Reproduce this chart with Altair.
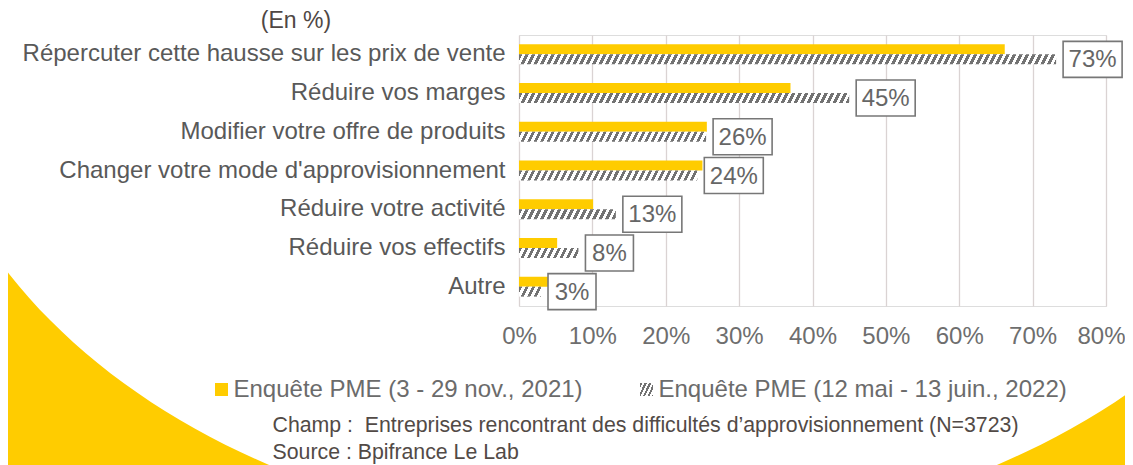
import math
import altair as alt
import pandas as pd

# ---------------- data ----------------
categories = [
    "Répercuter cette hausse sur les prix de vente",
    "Réduire vos marges",
    "Modifier votre offre de produits",
    "Changer votre mode d'approvisionnement",
    "Réduire votre activité",
    "Réduire vos effectifs",
    "Autre",
]
v2021 = [66.2, 37.0, 25.6, 25.0, 10.1, 5.2, 5.4]
v2022 = [73.2, 45.0, 25.5, 24.3, 13.2, 8.1, 3.0]
labels2022 = ["73%", "45%", "26%", "24%", "13%", "8%", "3%"]
x_ticks = [0, 10, 20, 30, 40, 50, 60, 70, 80]

legend_2021 = "Enquête PME (3 - 29 nov., 2021)"
legend_2022 = "Enquête PME (12 mai - 13 juin., 2022)"
unit_note = "(En %)"
champ_note = "Champ :\u00a0 Entreprises rencontrant des difficultés d’approvisionnement (N=3723)"
source_note = "Source : Bpifrance Le Lab"

# ---------------- style ----------------
FONT = "Liberation Sans"
YELLOW = "#FFCC00"
HATCH = "#727272"
W_PLOT, H_PLOT = 587, 271
X_MAX = 80
PX = W_PLOT / X_MAX
BAR_H = 10


def hatch_gradient(w, h, period=6.5, slant=5.0, duty=0.5, dark=HATCH, light="#ffffff"):
    """Linear gradient (bbox units) that looks like '/' stripes on a w x h box."""
    w = max(w, 1.0)
    r = slant / w
    k = (1 + r) / (1 + r * r)
    n = (w + slant) / period
    stops = []
    i = 0
    while i / n < 1:
        a = i / n
        b = min((i + duty) / n, 1.0)
        c = min((i + 1) / n, 1.0)
        stops += [
            {"offset": a, "color": dark},
            {"offset": b, "color": dark},
            {"offset": b, "color": light},
            {"offset": c, "color": light},
        ]
        i += 1
    return {"gradient": "linear", "x1": 0, "y1": 0, "x2": k, "y2": k * r, "stops": stops}


df = pd.DataFrame(
    {"cat": categories, "v21": v2021, "v22": v2022, "lab": labels2022, "idx": list(range(len(categories)))}
)

y_enc = alt.Y(
    "cat:N",
    sort=categories,
    scale=alt.Scale(paddingInner=0, paddingOuter=0),
    axis=alt.Axis(
        title=None, ticks=False, domain=False, grid=False, labelLimit=0,
        labelFontSize=24, labelColor="#595959", labelPadding=14, labelFont=FONT,
    ),
)
x_scale = alt.Scale(domain=[0, X_MAX], nice=False, zero=True)
x_axis = alt.Axis(
    title=None, values=x_ticks, labelExpr="datum.value + '%'", grid=True,
    gridColor="#dad3d3", gridWidth=1.3, domain=False, ticks=False, labelFlush=False,
    labelOffset={"condition": {"test": "datum.value == 80", "value": -5}, "value": 0},
    labelOverlap=False, labelFontSize=24, labelColor="#6e6e6e", labelPadding=18, labelFont=FONT,
)

layers = []

# background: yellow everywhere outside a large white ellipse
O_X, O_Y = 519, 35  # page position of plot origin
cx, cy, rx, ry = 633 - O_X, 12 - O_Y, 720, 525
pts = []
for j in range(241):
    t = -2 * math.pi * j / 240
    pts.append(f"L {rx * math.cos(t):.1f} {ry * math.sin(t):.1f}")
pts[0] = "M" + pts[0][1:]
path = "M -4000 -4000 L 4000 -4000 L 4000 4000 L -4000 4000 Z " + " ".join(pts) + " Z"
bg = alt.Chart(pd.DataFrame({"k": [0]})).mark_point(
    shape=path, size=4, filled=True, fill=YELLOW, opacity=1, strokeWidth=0
).encode(x=alt.value(cx), y=alt.value(cy))
layers.append(bg)

# 2021 bars
bars21 = alt.Chart(df).mark_bar(size=BAR_H, yOffset=-BAR_H / 2, color=YELLOW).encode(
    x=alt.X("v21:Q", scale=x_scale, axis=x_axis), y=y_enc
)
layers.append(bars21)

# 2022 hatched bars (one gradient per bar so stripes keep their pixel size)
for i, v in enumerate(v2022):
    grad = hatch_gradient(v * PX, BAR_H)
    layers.append(
        alt.Chart(df)
        .transform_filter(alt.FieldEqualPredicate(field="idx", equal=i))
        .mark_bar(size=BAR_H, yOffset=BAR_H / 2, color=grad)
        .encode(x=alt.X("v22:Q", scale=x_scale, axis=x_axis), y=y_enc)
    )

# boxed data labels for 2022
GAP = 7
for nchar, bw in [(3, 59), (2, 48)]:
    sub = alt.Chart(df).transform_filter(f"length(datum.lab) == {nchar}")
    layers.append(
        sub.mark_bar(
            size=36, yOffset=BAR_H / 2, xOffset=GAP, x2Offset=GAP + bw,
            fill="white", stroke="#777777", strokeWidth=1.6,
        ).encode(x=alt.X("v22:Q", scale=x_scale, axis=x_axis), x2="v22:Q", y=y_enc)
    )
    layers.append(
        sub.mark_text(
            fontSize=24, font=FONT, color="#666666", align="center", baseline="middle",
            xOffset=GAP + bw / 2, yOffset=BAR_H / 2 + 1,
        ).encode(x=alt.X("v22:Q", scale=x_scale, axis=x_axis), y=y_enc, text="lab:N")
    )


def text_layer(txt, x, y, size, color, align="left"):
    return alt.Chart(pd.DataFrame({"t": [txt]})).mark_text(
        fontSize=size, font=FONT, color=color, align=align, baseline="alphabetic"
    ).encode(x=alt.value(x), y=alt.value(y), text="t:N")


layers.append(text_layer(unit_note, 296 - O_X, 28 - O_Y, 23, "#4f4744", align="center"))

# legend
layers.append(
    alt.Chart(pd.DataFrame({"k": [0]})).mark_square(size=169, color=YELLOW, opacity=1)
    .encode(x=alt.value(221.5 - O_X), y=alt.value(389.5 - O_Y))
)
layers.append(text_layer(legend_2021, 233.5 - O_X, 397 - O_Y, 24, "#6b6b6b"))
layers.append(
    alt.Chart(pd.DataFrame({"k": [0]})).mark_square(
        size=169, color=hatch_gradient(13, 13, period=4.5, slant=6, duty=0.5), opacity=1
    ).encode(x=alt.value(646.5 - O_X), y=alt.value(389.5 - O_Y))
)
layers.append(text_layer(legend_2022, 658.5 - O_X, 397 - O_Y, 24, "#6b6b6b"))

# notes
layers.append(text_layer(champ_note, 272.5 - O_X, 432 - O_Y, 21.3, "#524a46"))
layers.append(text_layer(source_note, 272.5 - O_X, 459 - O_Y, 21.3, "#524a46"))

chart = (
    alt.layer(*layers)
    .properties(
        width=W_PLOT,
        height=H_PLOT,
        autosize=alt.AutoSizeParams(type="none"),
        padding={"left": O_X - 8, "top": O_Y - 8, "right": 1133 - 16 - O_X - W_PLOT + 8, "bottom": 470 - O_Y - H_PLOT},
        background="white",
    )
    .configure_view(stroke=None)
    .configure(font=FONT)
)

chart.save("out.html", embed_options={"renderer": "svg", "actions": False})
